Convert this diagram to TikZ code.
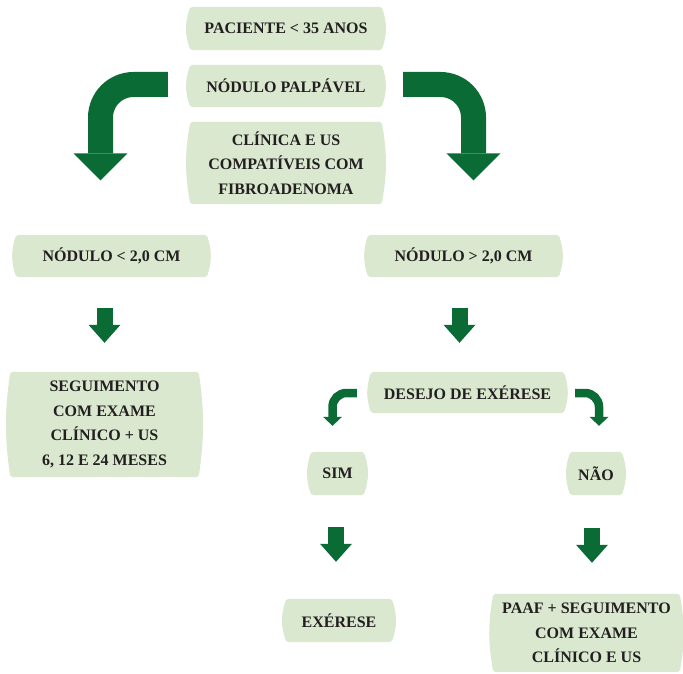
\documentclass[tikz,border=0pt]{standalone}
\usepackage{fontspec}
\setmainfont{Liberation Serif}
\usetikzlibrary{arrows.meta,calc,backgrounds}
\definecolor{BoxGreen}{HTML}{D9E8CF}
\definecolor{ArrowGreen}{HTML}{0B6B35}
\definecolor{TextDark}{HTML}{231F20}

\begin{document}
\begin{tikzpicture}[x=1pt,y=-1pt,
  box/.style={rectangle, text=TextDark, align=center, inner sep=0pt,
    font=\fontsize{16}{24.5}\selectfont\bfseries},
  boxfill/.style={BoxGreen, rounded corners=2pt},
  bigarrow/.style={ArrowGreen, line width=25pt, rounded corners=33pt,
    -{Triangle[width=54pt,length=27pt,line width=0pt]}},
  downarrow/.style={ArrowGreen, line width=16pt,
    -{Triangle[width=32pt,length=18pt,line width=0pt]}},
  smallarrow/.style={ArrowGreen, line width=8.5pt, rounded corners=14pt,
    -{Triangle[width=19pt,length=9pt,line width=0pt]}}]
  \useasboundingbox (0,0) rectangle (683,674);
  % Top column
  \node[box, minimum width=191pt, minimum height=43pt] (pac) at (286,28.5) {PACIENTE < 35 ANOS};
  \node[box, minimum width=191pt, minimum height=42pt] (palp) at (286,86) {NÓDULO PALPÁVEL};
  \node[box, minimum width=191pt, minimum height=82pt] (clin) at (286,163) {CLÍNICA E US\\COMPATÍVEIS COM\\FIBROADENOMA};
  % Size branches
  \node[box, minimum width=190pt, minimum height=42pt] (menor) at (111.5,256) {NÓDULO < 2,0 CM};
  \node[box, minimum width=190pt, minimum height=42pt] (maior) at (463.5,256) {NÓDULO > 2,0 CM};
  \node[box, minimum width=188pt, minimum height=105pt] (seg) at (104.5,424.5) {SEGUIMENTO\\COM EXAME\\CLÍNICO + US\\6, 12 E 24 MESES};
  \node[box, minimum width=192pt, minimum height=41pt] (desejo) at (467.5,392.5) {DESEJO DE EXÉRESE};
  % Decision
  \node[box, minimum width=52pt, minimum height=43pt] (sim) at (337.5,473.5) {SIM};
  \node[box, minimum width=51pt, minimum height=43pt] (nao) at (596,473.5) {NÃO};
  \node[box, minimum width=105pt, minimum height=43pt] (exe) at (339,620.5) {EXÉRESE};
  \node[box, minimum width=186pt, minimum height=78pt] (paaf) at (586.5,633) {PAAF + SEGUIMENTO\\COM EXAME\\CLÍNICO E US};
  % Box backgrounds with bulging sides
  \begin{scope}[on background layer]
    \foreach \n/\b in {pac/19,palp/19,clin/10,menor/19,maior/19,seg/8,
                       desejo/19,sim/19,nao/19,exe/19,paaf/10}
      \fill[boxfill] (\n.north west) to[bend right=\b] (\n.south west)
        -- (\n.south east) to[bend right=\b] (\n.north east) -- cycle;
  \end{scope}
  % Big curved arrows
  \draw[bigarrow] ($(palp.west)+(-22.5,-1.5)$) -| ($(menor.north)+(-11,-54.5)$);
  \draw[bigarrow] ($(palp.east)+(21.5,-1.5)$) -| ($(maior.north)+(10,-54.5)$);
  % Straight arrows
  \draw[downarrow] ($(menor.south -| seg.north)+(0,31)$) -- ($(seg.north)+(0,-29)$);
  \draw[downarrow] ($(maior.south)+(-4,31)$) -- ($(desejo.north)+(-8,-29)$);
  \draw[downarrow] ($(sim.south)+(-1.5,32)$) -- ($(exe.north)+(-3,-37)$);
  \draw[downarrow] ($(nao.south)+(-4,33)$) -- ($(paaf.north)+(5.5,-31)$);
  % Small curved arrows
  \draw[smallarrow] ($(desejo.west)+(-14.5,0.5)$) -| ($(sim.north)+(-5,-26)$);
  \draw[smallarrow] ($(desejo.east)+(11.5,0.5)$) -| ($(nao.north)+(3,-26)$);
\end{tikzpicture}
\end{document}
